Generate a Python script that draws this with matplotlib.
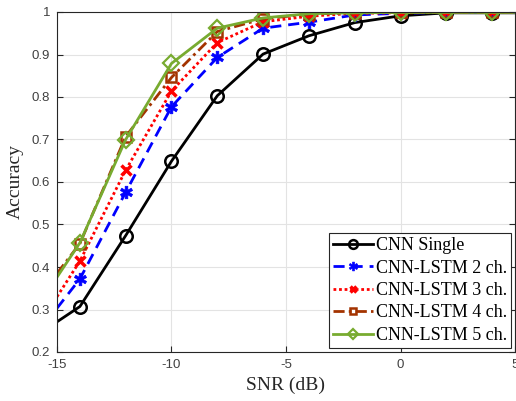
import numpy as np
import matplotlib.pyplot as plt

plt.rcParams["axes.unicode_minus"] = False

snr = [-15, -14, -12, -10, -8, -6, -4, -2, 0, 2, 4, 5]

acc_cnn = [0.271, 0.307, 0.474, 0.649, 0.803, 0.901, 0.944, 0.975, 0.991, 0.998, 0.998, 0.998]
acc_2ch = [0.303, 0.372, 0.576, 0.777, 0.893, 0.962, 0.976, 0.993, 0.997, 0.999, 0.999, 0.999]
acc_3ch = [0.330, 0.414, 0.628, 0.814, 0.928, 0.977, 0.990, 0.997, 0.998, 0.999, 0.999, 0.999]
acc_4ch = [0.385, 0.455, 0.707, 0.846, 0.954, 0.984, 0.995, 0.998, 0.999, 0.999, 0.999, 0.999]
acc_5ch = [0.376, 0.457, 0.700, 0.879, 0.962, 0.986, 0.996, 0.998, 0.999, 0.999, 0.999, 0.999]

labels = ["CNN Single", "CNN-LSTM 2 ch.", "CNN-LSTM 3 ch.", "CNN-LSTM 4 ch.", "CNN-LSTM 5 ch."]

fig = plt.figure(figsize=(5.16, 4.01), dpi=100)
ax = fig.add_axes([57 / 516, 49 / 401, 458 / 516, 340 / 401])

# markers only on the even SNR points, not the end points
mk = list(range(1, len(snr) - 1))

styles = [
    dict(color="k", ls="-", marker="o", ms=9, mfc="none", mew=1.8),
    dict(color=(0, 0, 1), ls=(0, (4, 2.5)), marker="$\u2731$", ms=9, mew=0.5),
    dict(color=(1, 0, 0), ls=(0, (1, 1)), marker="x", ms=7, mew=2.5),
    dict(color=(0.64, 0.2, 0.0), ls=(0, (4, 1.5, 1, 1.5)), marker="s", ms=7, mfc="none", mew=1.8),
    dict(color=(0.47, 0.67, 0.19), ls="-", marker="D", ms=8, mfc="none", mew=1.6),
]
series = [acc_cnn, acc_2ch, acc_3ch, acc_4ch, acc_5ch]

for y, lab, st in zip(series, labels, styles):
    ax.plot(snr, y, lw=2, markevery=mk, label=lab, **st)

ax.set_xlim(-15, 5)
ax.set_ylim(0.2, 1)
ax.set_xticks([-15, -10, -5, 0, 5])
ax.set_yticks(np.arange(0.2, 1.01, 0.1))
ax.set_yticklabels(["0.2", "0.3", "0.4", "0.5", "0.6", "0.7", "0.8", "0.9", "1"])
ax.grid(True, color="#e3e3e3", lw=0.8)
ax.set_axisbelow(True)
ax.tick_params(direction="in", length=4, colors="#262626", labelcolor="#404040",
               labelsize=9.5, right=True, top=False, pad=5)
for t in ax.get_xticklabels() + ax.get_yticklabels():
    t.set_fontfamily("Liberation Sans")
for sp in ax.spines.values():
    sp.set_color("#262626")
    sp.set_linewidth(0.8)

serif = "Liberation Serif"
ax.set_xlabel("SNR (dB)", fontfamily=serif, fontsize=14, color="#262626", labelpad=4)
ax.set_ylabel("Accuracy", fontfamily=serif, fontsize=14, color="#262626", labelpad=6)

leg = ax.legend(loc="lower right", prop={"family": serif, "size": 13},
                fancybox=False, framealpha=1, edgecolor="#262626",
                borderpad=0.25, labelspacing=0.3, handlelength=2.2,
                handletextpad=0.15, borderaxespad=0.2, markerscale=0.7)
leg.get_frame().set_linewidth(0.8)

fig.savefig("out.png", dpi=100)
